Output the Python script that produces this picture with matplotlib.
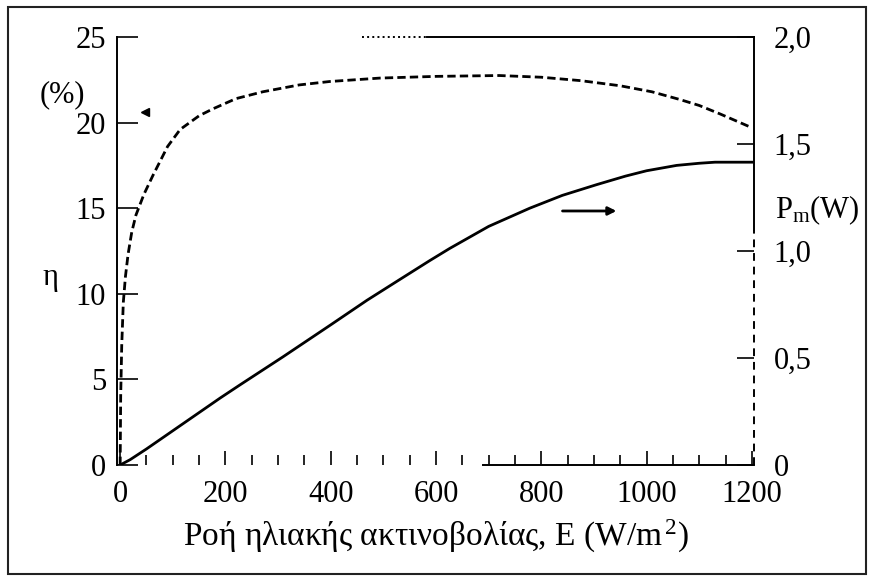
import matplotlib
matplotlib.use('Agg')
import matplotlib.pyplot as plt
from matplotlib.patches import Rectangle
from matplotlib.ticker import MultipleLocator

plt.rcParams['font.family'] = ['Liberation Serif', 'DejaVu Serif']
plt.rcParams['mathtext.fontset'] = 'custom'
plt.rcParams['mathtext.rm'] = 'Liberation Serif'
plt.rcParams['mathtext.it'] = 'Liberation Serif'

# efficiency curve (left axis, %)
E_eta = [0, 1, 3, 6, 10, 15, 22, 30, 45, 62, 90, 114, 150, 176, 220, 271, 340, 398,
         493, 600, 720, 800, 875, 950, 1010, 1063, 1100, 1140, 1200]
eta = [0, 4, 7, 9.5, 11, 12.3, 13.6, 14.6, 15.8, 16.9, 18.6, 19.6, 20.4, 20.8, 21.4,
       21.8, 22.2, 22.4, 22.6, 22.7, 22.75, 22.65, 22.45, 22.15, 21.8, 21.35, 21.0, 20.5, 19.7]

# max power curve (right axis, W)
E_pm = [0, 19, 50, 100, 190, 228, 309, 400, 469, 530, 588, 626, 700, 778, 840, 905,
        960, 1000, 1057, 1100, 1130, 1200]
pm = [0, 0.025, 0.075, 0.16, 0.313, 0.375, 0.505, 0.655, 0.77, 0.865, 0.955, 1.012,
      1.115, 1.2, 1.26, 1.31, 1.35, 1.375, 1.40, 1.41, 1.415, 1.415]

x_ticks = [0, 200, 400, 600, 800, 1000, 1200]
eta_ticks = [0, 5, 10, 15, 20, 25]
pm_ticks = [0, 0.5, 1.0, 1.5, 2.0]
pm_labels = ['0', '0,5', '1,0', '1,5', '2,0']

W, H = 871, 580
fig = plt.figure(figsize=(W / 100, H / 100), dpi=100)
ax = fig.add_axes([117 / W, 1 - 465 / H, (754 - 117) / W, (465 - 37) / H])
ax2 = ax.twinx()

fs = 22

ax.plot(E_eta, eta, color='black', lw=2, ls=(0, (3, 1.5)))
ax.plot([47], [20.6], marker='<', color='black', ms=6)
ax2.plot(E_pm, pm, color='black', lw=2)
ax2.annotate('', xy=(948, 1.187), xytext=(835, 1.187),
             arrowprops=dict(arrowstyle='-|>', color='black', lw=2, mutation_scale=12))

ax.set_xlim(-6, 1204)
ax.set_ylim(0, 25)
ax2.set_ylim(0, 2.0)

ax.set_xticks(x_ticks)
ax.xaxis.set_minor_locator(MultipleLocator(50))
ax.set_yticks(eta_ticks)
ax2.set_yticks(pm_ticks)
ax2.set_yticklabels(pm_labels)

ax.tick_params(axis='x', which='major', direction='in', length=10, width=1.2,
               labelsize=fs, pad=11)
ax.tick_params(axis='x', which='minor', direction='in', length=7, width=1.2)
ax.tick_params(axis='y', direction='in', length=15, width=1.2, labelsize=fs, pad=8)
ax2.tick_params(axis='y', direction='in', length=12, width=1.2, labelsize=fs, pad=14)

for a in (ax, ax2):
    for s in a.spines.values():
        s.set_linewidth(1.4)
ax.spines['top'].set_visible(False)
ax2.spines['top'].set_bounds(583, 1204)
ax2.spines['bottom'].set_bounds(690, 1204)
ax2.spines['right'].set_bounds(1.1, 2.0)
ax.spines['bottom'].set_visible(False)
ax.spines['right'].set_visible(False)
ax2.spines['left'].set_visible(False)
ax2.plot([1204, 1204], [0, 1.1], color='black', lw=1.4, ls=(0, (4, 3)), clip_on=False)
ax2.plot([460, 583], [2.0, 2.0], color='black', lw=1.4, ls=':', clip_on=False)

ax.set_xlabel('Ροή ηλιακής ακτινοβολίας, E (W/m$^{\\,2}$)', fontsize=24, labelpad=6)
ax.text(-0.086, 0.864, '(%)', transform=ax.transAxes, fontsize=fs, ha='center', va='center')
ax.text(-0.105, 0.437, 'η', transform=ax.transAxes, fontsize=fs, ha='center', va='center')
ax2.text(1.099, 0.596, 'P$_{\\rm m}$(W)', transform=ax2.transAxes, fontsize=fs,
         ha='center', va='center')

fig.patches.append(Rectangle((8 / W, 1 - 574 / H), (866 - 8) / W, (574 - 7) / H,
                             transform=fig.transFigure, fill=False, lw=1.5, ec='#222'))

fig.savefig('out.png', dpi=100)
